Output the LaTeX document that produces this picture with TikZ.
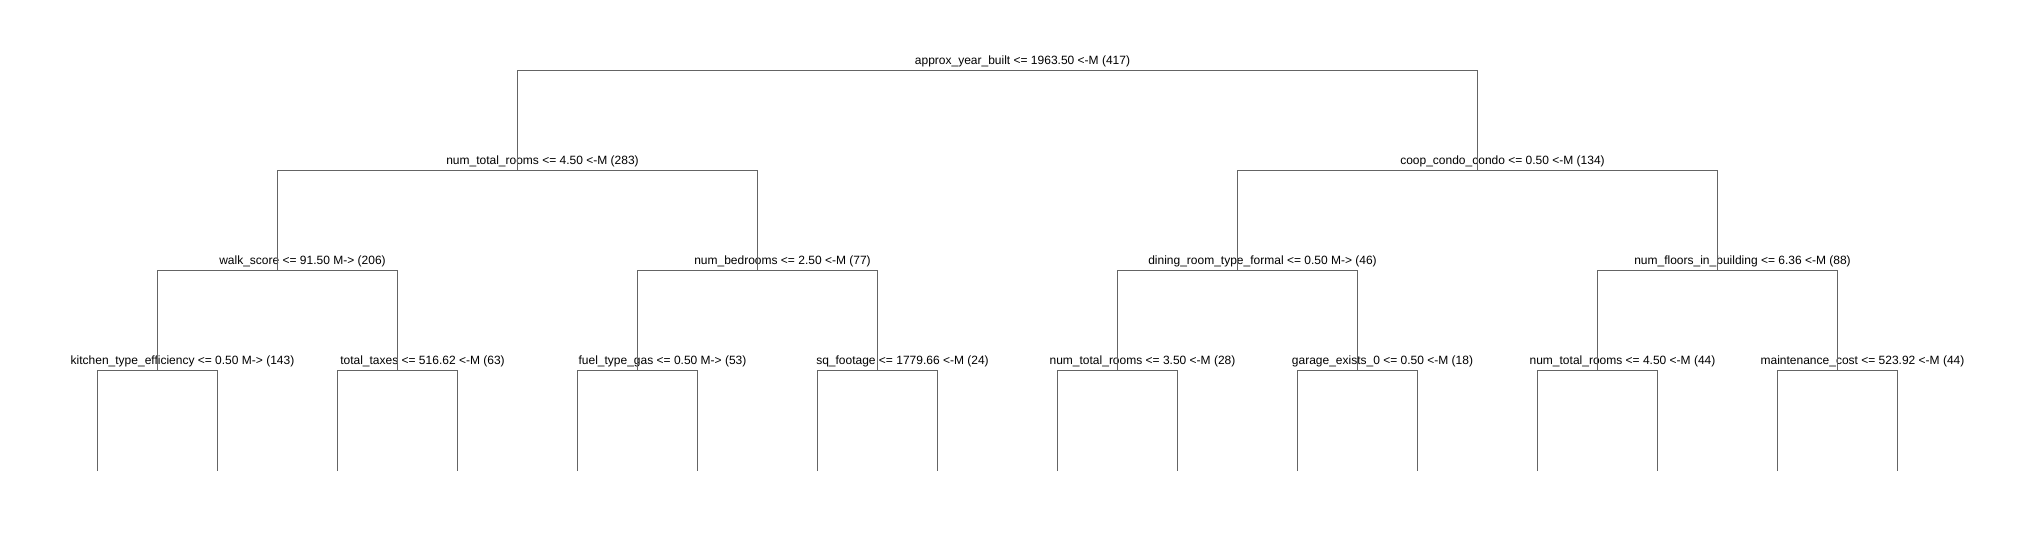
\documentclass[tikz,border=0pt]{standalone}
\usepackage{fontspec}
\setmainfont{Liberation Sans}
\usetikzlibrary{positioning}
\definecolor{branchgray}{RGB}{100,100,100}

\begin{document}
\begin{tikzpicture}[x=0.5pt,y=-0.5pt,
    splitlbl/.style={anchor=base,inner sep=0pt,font=\fontsize{6}{7}\selectfont},
    branch/.style={draw=branchgray,line width=0.5pt}]
    \useasboundingbox (0,0) rectangle (2037,540);

    % Split points and their labels
    \foreach \n/\x/\y/\t in {
        root/997.5/70.3/{approx\_year\_built <= 1963.50 <-M (417)},
        a1/517.5/170.3/{num\_total\_rooms <= 4.50 <-M (283)},
        a2/1477.5/170.3/{coop\_condo\_condo <= 0.50 <-M (134)},
        b1/277.5/270.7/{walk\_score <= 91.50 M-> (206)},
        b2/757.5/270.7/{num\_bedrooms <= 2.50 <-M (77)},
        b3/1237.5/270.7/{dining\_room\_type\_formal <= 0.50 M-> (46)},
        b4/1717.5/270.7/{num\_floors\_in\_building <= 6.36 <-M (88)},
        c1/157.5/370.7/{kitchen\_type\_efficiency <= 0.50 M-> (143)},
        c2/397.5/370.7/{total\_taxes <= 516.62 <-M (63)},
        c3/637.5/370.7/{fuel\_type\_gas <= 0.50 M-> (53)},
        c4/877.5/370.7/{sq\_footage <= 1779.66 <-M (24)},
        c5/1117.5/370.7/{num\_total\_rooms <= 3.50 <-M (28)},
        c6/1357.5/370.7/{garage\_exists\_0 <= 0.50 <-M (18)},
        c7/1597.5/370.7/{num\_total\_rooms <= 4.50 <-M (44)},
        c8/1837.5/370.7/{maintenance\_cost <= 523.92 <-M (44)}}
    {
        \coordinate (\n) at (\x,\y);
        \node[splitlbl] (\n lbl) at (\x+25,\y-6) {\t};
    }

    % Leaves
    \foreach \i in {1,...,8} {
        \coordinate (leaf\i L) at ({97.5+240*(\i-1)},471);
        \coordinate (leaf\i R) at ({217.5+240*(\i-1)},471);
    }

    % Branches
    \draw[branch] (a1) |- (root) -| (a2);
    \draw[branch] (b1) |- (a1) -| (b2);
    \draw[branch] (b3) |- (a2) -| (b4);
    \draw[branch] (c1) |- (b1) -| (c2);
    \draw[branch] (c3) |- (b2) -| (c4);
    \draw[branch] (c5) |- (b3) -| (c6);
    \draw[branch] (c7) |- (b4) -| (c8);
    \foreach \i in {1,...,8}
        \draw[branch] (leaf\i L) |- (c\i) -| (leaf\i R);
\end{tikzpicture}
\end{document}
